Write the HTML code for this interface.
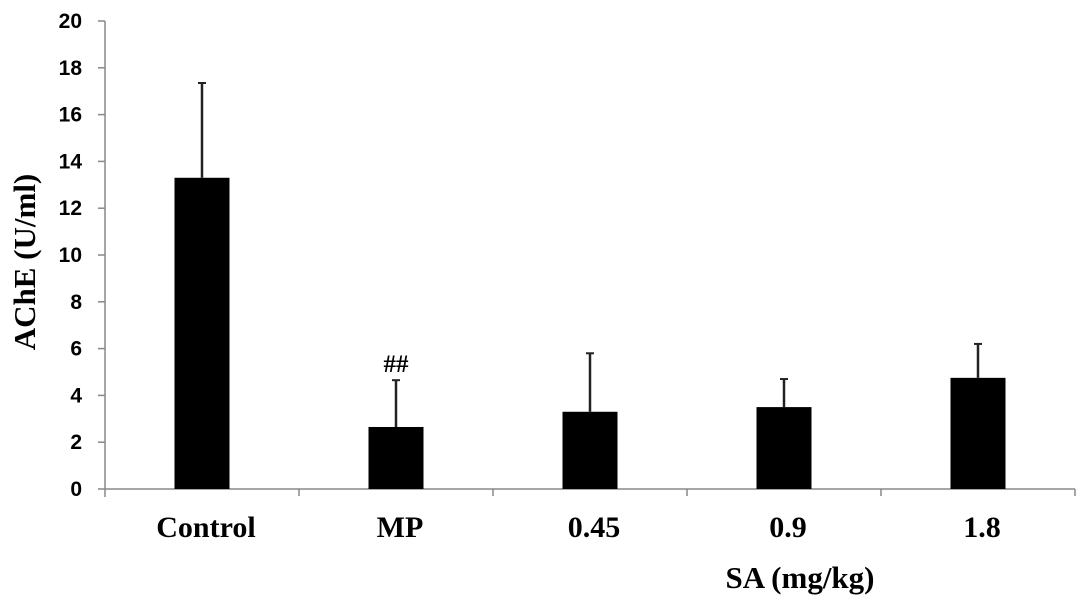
<!DOCTYPE html>
<html><head><meta charset="utf-8"><style>
body{margin:0;background:#fff;}
svg{display:block;font-family:"Liberation Serif",serif;font-weight:bold;}
</style></head><body>
<svg id="c" width="1087" height="606"></svg>
<script>
const categories=["Control","MP","0.45","0.9","1.8"];
const values=[13.3,2.65,3.3,3.5,4.75];
const errors=[4.05,2.0,2.5,1.2,1.45];
const annotations=["","##","","",""];
const yTicks=[0,2,4,6,8,10,12,14,16,18,20];
const NS="http://www.w3.org/2000/svg";
const svg=document.getElementById('c');
const x0=105,band=194,y0=489,yTop=21,yMax=20;
const y=v=>y0-(v/yMax)*(y0-yTop);
const xc=i=>x0+band*i+band/2;
function mk(t,a,txt){const e=document.createElementNS(NS,t);for(const k in a)e.setAttribute(k,a[k]);if(txt!==undefined)e.textContent=txt;svg.appendChild(e);return e;}
let e;
e=mk('line',{x1:x0,y1:yTop,x2:x0,y2:497,stroke:'#888','stroke-width':1.5});


e=mk('line',{x1:x0,y1:y0,x2:x0+band*5,y2:y0,stroke:'#888','stroke-width':1.5});


yTicks.forEach(t=>{
 e=mk('line',{x1:x0-7,y1:y(t),x2:x0,y2:y(t),stroke:'#888','stroke-width':1.5});
 
 
 e=mk('text',{x:82,y:y(t)+7,'text-anchor':'end','font-size':21,'font-family':'Liberation Sans, sans-serif'},t);
 
 
});
for(let i=1;i<=5;i++){
 e=mk('line',{x1:x0+band*i,y1:y0,x2:x0+band*i,y2:496,stroke:'#888','stroke-width':1.5});
 
 
}
categories.forEach((c,i)=>{
 const cx=xc(i);
 e=mk('line',{x1:cx,y1:y(values[i]),x2:cx,y2:y(values[i]+errors[i]),stroke:'#222','stroke-width':2.5});
 
 
 e=mk('line',{x1:cx-4,y1:y(values[i]+errors[i]),x2:cx+4,y2:y(values[i]+errors[i]),stroke:'#222','stroke-width':2});
 
 
 e=mk('rect',{x:cx-27.5,y:y(values[i]),width:55,height:y0-y(values[i]),fill:'#000'});
 
 
 e=mk('text',{x:cx+4,y:537,'text-anchor':'middle','font-size':30},c);
 
 
 if(annotations[i]){
  e=mk('text',{x:cx,y:y(values[i]+errors[i])-8,'text-anchor':'middle','font-size':25},annotations[i]);
  
  
 }
});
e=mk('text',{x:800,y:588,'text-anchor':'middle','font-size':31},'SA (mg/kg)');


e=mk('text',{x:0,y:0,'text-anchor':'middle','font-size':31,transform:'translate(35,262) rotate(-90)'},'AChE (U/ml)');


</script>
</body></html>
